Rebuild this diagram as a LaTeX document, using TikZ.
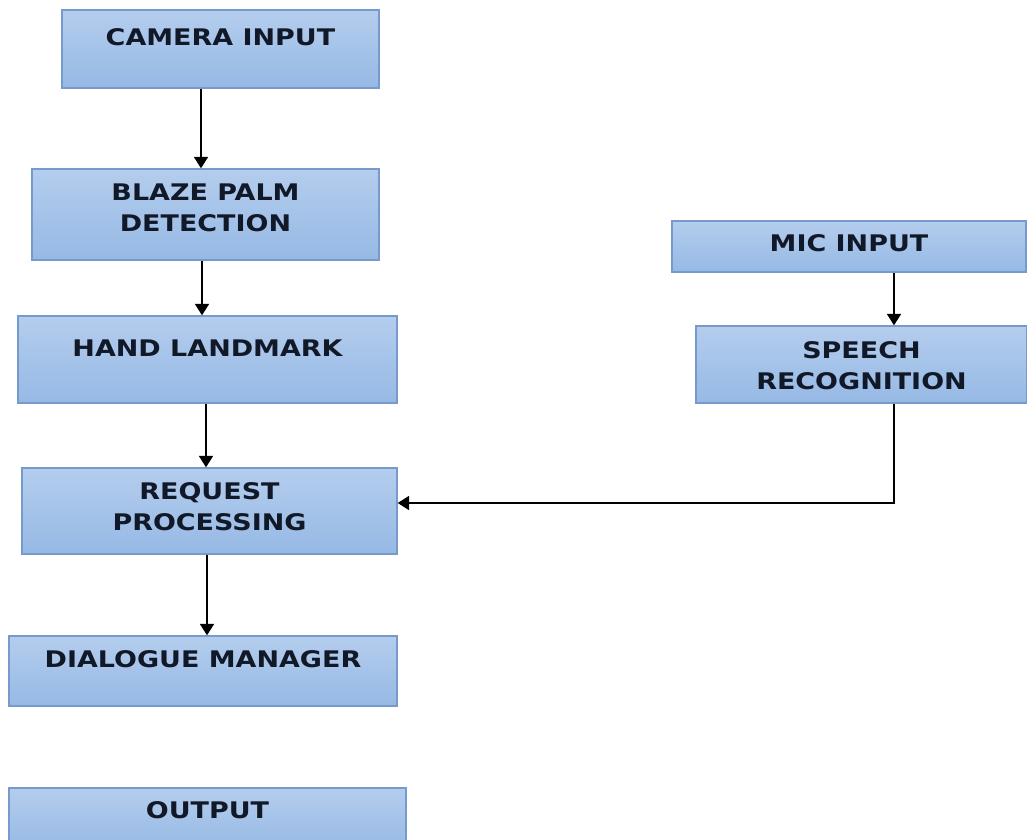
\documentclass[tikz,border=0pt]{standalone}
\usepackage{fontspec}
\usepackage{xcolor}
\usepackage{tikz}
\usetikzlibrary{positioning, arrows.meta, calc}
\newfontfamily\boxfont[FakeStretch=1.18]{DejaVu Sans}
\definecolor{boxtop}{RGB}{180,205,237}
\definecolor{boxbot}{RGB}{150,185,229}
\definecolor{boxline}{RGB}{118,154,204}
\definecolor{boxtext}{RGB}{17,24,39}

\begin{document}
\begin{tikzpicture}[
  >=Stealth,
  block/.style={draw=boxline, line width=0.8pt, top color=boxtop,
    bottom color=boxbot, inner sep=0pt},
  blocktext/.style={align=center, text=boxtext, inner sep=0pt,
    font=\boxfont\bfseries\fontsize{13}{17.6}\selectfont},
  arrow/.style={-{Triangle[width=8pt, length=6.5pt]}, line width=0.9pt},
]
\useasboundingbox (0, 0) rectangle (20.54, -16.8);

% ===== LEFT COLUMN: Gesture Path =====
\node[block, minimum width=6.34cm, minimum height=1.56cm]
  (camera) at (4.41, -0.98) {};
\node[blocktext] (cameratext) at (4.41, -0.74) {CAMERA INPUT};

\node[block, minimum width=6.94cm, minimum height=1.82cm]
  (palm) at (4.11, -4.29) {};
\node[blocktext] (palmtext) at (4.11, -4.15) {BLAZE PALM\\DETECTION};

\node[block, minimum width=7.58cm, minimum height=1.74cm]
  (landmark) at (4.15, -7.19) {};
\node[blocktext] (landmarktext) at (4.15, -6.96) {HAND LANDMARK};

\node[block, minimum width=7.50cm, minimum height=1.72cm]
  (request) at (4.19, -10.22) {};
\node[blocktext] (requesttext) at (4.19, -10.14) {REQUEST\\PROCESSING};

\node[block, minimum width=7.76cm, minimum height=1.40cm]
  (dialogue) at (4.06, -13.42) {};
\node[blocktext] (dialoguetext) at (4.06, -13.18) {DIALOGUE MANAGER};

\node[block, minimum width=7.94cm, minimum height=1.24cm]
  (output) at (4.15, -16.38) {};
\node[blocktext] (outputtext) at (4.15, -16.20) {OUTPUT};

% ===== RIGHT COLUMN: Voice Path =====
\node[block, minimum width=7.08cm, minimum height=1.02cm]
  (mic) at (16.98, -4.93) {};
\node[blocktext] (mictext) at (16.98, -4.86) {MIC INPUT};

\node[block, minimum width=6.62cm, minimum height=1.54cm]
  (speech) at (17.23, -7.29) {};
\node[blocktext] (speechtext) at (17.23, -7.32) {SPEECH\\RECOGNITION};

% Arrows left column
\draw[arrow] ([xshift=-0.39cm]camera.south) -- ([xshift=-0.39cm]camera.south |- palm.north);
\draw[arrow] ([xshift=-0.07cm]palm.south) -- ([xshift=-0.07cm]palm.south |- landmark.north);
\draw[arrow] ([xshift=-0.03cm]landmark.south) -- ([xshift=-0.03cm]landmark.south |- request.north);
\draw[arrow] ([xshift=-0.05cm]request.south) -- ([xshift=-0.05cm]request.south |- dialogue.north);

% Arrows right column
\draw[arrow] ([xshift=0.90cm]mic.south) -- ([xshift=0.90cm]mic.south |- speech.north);
\draw[arrow] ([xshift=0.65cm]speech.south) |- ([yshift=0.16cm]request.east);

\end{tikzpicture}
\end{document}
